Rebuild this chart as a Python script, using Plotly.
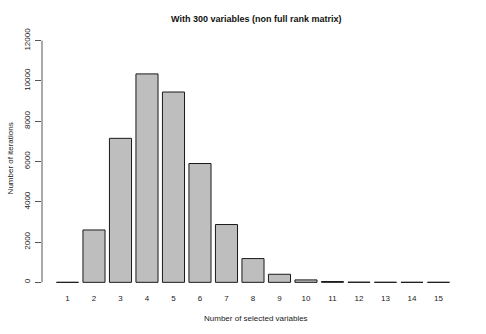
import plotly.graph_objects as go

n_selected = list(range(1, 16))
n_iterations = [0, 2600, 7150, 10350, 9450, 5900, 2870, 1180, 400, 120, 40, 8, 3, 1, 1]
y_ticks = [0, 2000, 4000, 6000, 8000, 10000, 12000]

title_text = "With 300 variables (non full rank matrix)"
x_title = "Number of selected variables"
y_title = "Number of iterations"

font_family = "Liberation Sans, Arial, Helvetica, sans-serif"

fig = go.Figure()
fig.add_trace(go.Bar(
    x=n_selected, y=n_iterations,
    width=1 / 1.2,
    marker=dict(color="#BEBEBE", line=dict(color="#1a1a1a", width=1)),
    showlegend=False,
))

fig.update_layout(
    width=486, height=334,
    margin=dict(l=42, r=16, t=31, b=42, autoexpand=False),
    paper_bgcolor="white", plot_bgcolor="white",
    font=dict(family=font_family, size=8, color="#222"),
    xaxis=dict(
        range=[0.038, 16.19], automargin=False,
        tickmode="array", tickvals=n_selected, ticktext=[str(v) for v in n_selected],
        showline=False, showgrid=False, zeroline=False, ticks="",
        tickfont=dict(size=8, color="#222"),
    ),
    yaxis=dict(
        range=[-480, 12480], automargin=False,
        tickmode="array", tickvals=y_ticks, ticktext=[str(v) for v in y_ticks],
        tickangle=-90, ticklabelstandoff=2,
        showline=False, showgrid=False, zeroline=False,
        ticks="outside", ticklen=6, tickcolor="#555", tickwidth=1,
        tickfont=dict(size=8, color="#222"),
    ),
    shapes=[dict(type="line", xref="paper", yref="y", x0=0, x1=0, y0=0, y1=12000,
                 line=dict(color="#555", width=1))],
    annotations=[
        dict(text="<b>" + title_text + "</b>", xref="paper", yref="paper",
             x=0.5, y=1, yshift=5, xanchor="center", yanchor="bottom", showarrow=False,
             font=dict(size=9, color="#111")),
        dict(text=x_title, xref="paper", yref="paper", x=0.5, y=0, yshift=-33,
             xanchor="center", yanchor="bottom", showarrow=False,
             font=dict(size=8, color="#222")),
        dict(text=y_title, xref="paper", yref="paper", x=0, xshift=-38, y=0.51,
             xanchor="left", yanchor="middle", textangle=-90, showarrow=False,
             font=dict(size=8, color="#222")),
    ],
)

fig.write_html("out.html", config={"displayModeBar": False},
               post_script="document.body.style.margin='0';")
